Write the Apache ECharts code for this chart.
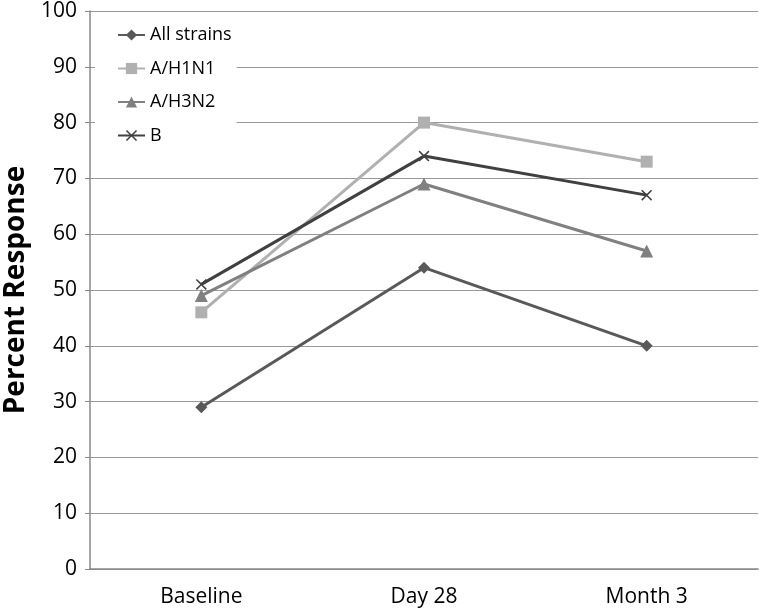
<!DOCTYPE html>
<html><head><meta charset="utf-8">
<script src="https://cdn.jsdelivr.net/npm/echarts@6/dist/echarts.min.js"></script>
<style>html,body{margin:0;padding:0;background:#fff}#c{width:759px;height:613px}</style>
</head><body><div id="c"></div>
<script>
const categories = ['Baseline', 'Day 28', 'Month 3'];
const allStrains = [29, 54, 40];
const h1n1 = [46, 80, 73];
const h3n2 = [49, 69, 57];
const bStrain = [51, 74, 67];
const seriesNames = ['All strains', 'A/H1N1', 'A/H3N2', 'B'];

const xPath = 'path://M0,1L1,0L5,4L9,0L10,1L6,5L10,9L9,10L5,6L1,10L0,9L4,5Z';
const font = '"Open Sans", "Liberation Sans", sans-serif';
function mk(name, data, color, symbol, size) {
  return {name, type: 'line', data, symbol, symbolSize: size,
    lineStyle: {color, width: 3}, itemStyle: {color}, animation: false};
}
const chart = echarts.init(document.getElementById('c'));
chart.setOption({
  animation: false,
  grid: {left: 90, right: 1, top: 11, bottom: 44, outerBoundsMode: 'none', containLabel: false},
  legend: {
    orient: 'vertical', left: 95, top: 14, padding: [12, 5, 12, 22],
    backgroundColor: '#fff', itemWidth: 27, itemHeight: 14, itemGap: 15.5,
    textStyle: {fontFamily: font, fontSize: 18, color: '#000', lineHeight: 18},
    data: seriesNames
  },
  xAxis: {
    type: 'category', data: categories, boundaryGap: true,
    axisLine: {lineStyle: {color: '#888', width: 1.5}},
    axisTick: {show: false},
    axisLabel: {fontFamily: font, fontSize: 21, color: '#000', margin: 18}
  },
  yAxis: {
    type: 'value', min: 0, max: 100, interval: 10,
    name: 'Percent Response', nameLocation: 'middle', nameGap: 60,
    nameTextStyle: {fontFamily: font, fontSize: 28, fontWeight: 'bold', color: '#000'},
    axisLine: {show: true, lineStyle: {color: '#888', width: 1.5}},
    axisTick: {show: true, length: 5, lineStyle: {color: '#888'}},
    splitLine: {lineStyle: {color: '#999', width: 1.2}},
    axisLabel: {fontFamily: font, fontSize: 21, color: '#000', margin: 13}
  },
  series: [
    mk(seriesNames[0], allStrains, '#595959', 'diamond', 12),
    mk(seriesNames[1], h1n1, '#b0b0b0', 'rect', 12),
    mk(seriesNames[2], h3n2, '#808080', 'triangle', 13),
    mk(seriesNames[3], bStrain, '#404040', xPath, 11)
  ]
});
</script></body></html>
